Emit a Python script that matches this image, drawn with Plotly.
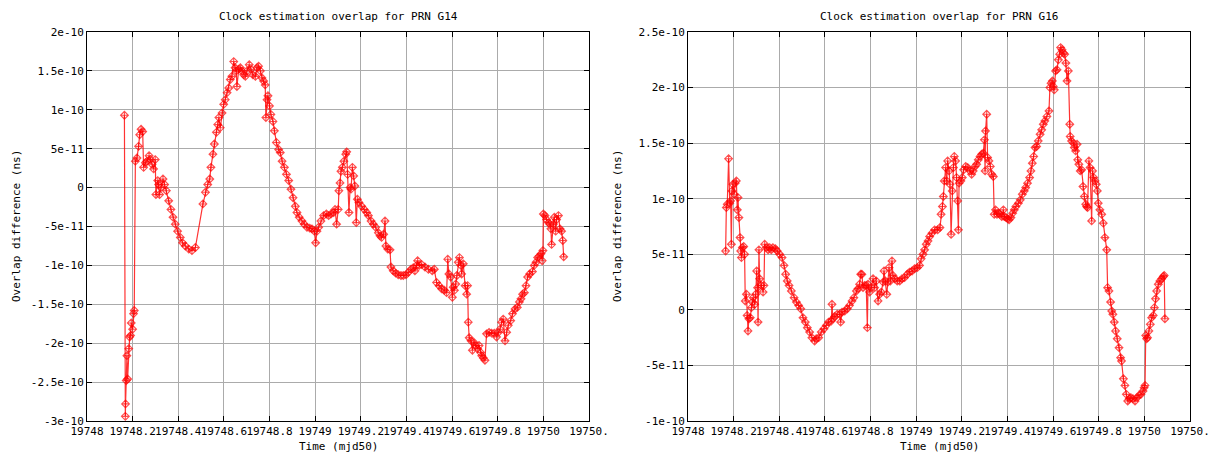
import numpy as np
import plotly.graph_objects as go

# ---------------- data ----------------
# PRN G14 : time (mjd50) and overlap difference (in units of 1e-10)
g14_time = [
    19748.164, 19748.168, 19748.169, 19748.172, 19748.175, 19748.178, 19748.183, 19748.187,
    19748.191, 19748.194, 19748.200, 19748.204, 19748.207, 19748.212, 19748.219, 19748.226,
    19748.231, 19748.237, 19748.244, 19748.248, 19748.256, 19748.263, 19748.272, 19748.278,
    19748.285, 19748.292, 19748.299, 19748.302, 19748.310, 19748.314, 19748.318, 19748.324,
    19748.333, 19748.340, 19748.348, 19748.358, 19748.368, 19748.377, 19748.387, 19748.397,
    19748.409, 19748.419, 19748.431, 19748.446, 19748.460, 19748.475, 19748.508, 19748.519,
    19748.529, 19748.538, 19748.543, 19748.552, 19748.558, 19748.567, 19748.573, 19748.578,
    19748.584, 19748.592, 19748.599, 19748.606, 19748.614, 19748.621, 19748.628, 19748.635,
    19748.643, 19748.649, 19748.654, 19748.657, 19748.665, 19748.672, 19748.679, 19748.687,
    19748.694, 19748.701, 19748.711, 19748.719, 19748.727, 19748.738, 19748.745, 19748.752,
    19748.760, 19748.767, 19748.774, 19748.781, 19748.784, 19748.789, 19748.793, 19748.800,
    19748.806, 19748.815, 19748.821, 19748.830, 19748.840, 19748.847, 19748.855, 19748.865,
    19748.874, 19748.884, 19748.894, 19748.903, 19748.913, 19748.920, 19748.930, 19748.942,
    19748.952, 19748.964, 19748.976, 19748.986, 19748.996, 19749.002, 19749.008, 19749.015,
    19749.025, 19749.037, 19749.049, 19749.059, 19749.069, 19749.081,
    19749.087, 19749.094, 19749.101, 19749.104, 19749.109, 19749.113, 19749.119, 19749.126,
    19749.134, 19749.138, 19749.142, 19749.148, 19749.153, 19749.157, 19749.163, 19749.169,
    19749.174, 19749.180, 19749.185, 19749.192, 19749.204, 19749.215, 19749.226, 19749.233,
    19749.245, 19749.255, 19749.265, 19749.277, 19749.284, 19749.291, 19749.300, 19749.306,
    19749.310, 19749.318, 19749.328, 19749.332, 19749.342, 19749.353, 19749.364, 19749.376,
    19749.386, 19749.398, 19749.408, 19749.420, 19749.430, 19749.437, 19749.445, 19749.449,
    19749.456, 19749.467, 19749.481, 19749.496, 19749.513, 19749.522, 19749.532, 19749.543,
    19749.554, 19749.566, 19749.576, 19749.581, 19749.586, 19749.594, 19749.601, 19749.605,
    19749.610, 19749.616, 19749.621, 19749.627, 19749.632, 19749.639, 19749.642, 19749.649,
    19749.657, 19749.664, 19749.668, 19749.671, 19749.675, 19749.683, 19749.689, 19749.696,
    19749.703, 19749.712, 19749.718, 19749.725, 19749.730, 19749.737, 19749.744, 19749.751,
    19749.762, 19749.773, 19749.785, 19749.795, 19749.803, 19749.810, 19749.817, 19749.824,
    19749.832, 19749.839, 19749.846, 19749.857, 19749.865, 19749.876, 19749.886, 19749.895,
    19749.902, 19749.909, 19749.917, 19749.924, 19749.931, 19749.940, 19749.952, 19749.960,
    19749.968, 19749.975, 19749.982, 19749.990, 19749.995, 19749.998, 19750.000, 19750.007,
    19750.014, 19750.022, 19750.029, 19750.033, 19750.036, 19750.044, 19750.048, 19750.054,
    19750.058, 19750.066, 19750.073, 19750.080, 19750.085, 19750.089,
]
g14_diff_e10 = [
    0.93, -2.94, -2.78, -2.48, -2.16, -2.46, -2.07, -1.92,
    -1.90, -1.74, -1.82, -1.62, -1.58, 0.34, 0.38, 0.53,
    0.68, 0.75, 0.72, 0.26, 0.32, 0.34, 0.41, 0.36,
    0.30, 0.24, 0.36, -0.09, 0.09, 0.04, -0.09, 0.00,
    0.11, 0.04, -0.04, -0.17, -0.28, -0.38, -0.47, -0.56,
    -0.64, -0.71, -0.75, -0.79, -0.81, -0.77, -0.21, -0.06,
    0.04, 0.11, 0.26, 0.43, 0.56, 0.71, 0.81, 0.90,
    0.77, 0.96, 1.07, 1.13, 1.22, 1.28, 1.39, 1.43,
    1.62, 1.54, 1.50, 1.30, 1.52, 1.54, 1.50, 1.45,
    1.43, 1.50, 1.58, 1.52, 1.45, 1.43, 1.54, 1.56,
    1.50, 1.41, 1.37, 1.32, 0.90, 1.13, 1.18, 1.05,
    0.94, 0.85, 0.73, 0.58, 0.49, 0.45, 0.34, 0.26,
    0.17, 0.09, -0.02, -0.13, -0.24, -0.32, -0.38, -0.43,
    -0.47, -0.51, -0.52, -0.53, -0.56, -0.71, -0.56, -0.51,
    -0.43, -0.36, -0.34, -0.36, -0.34, -0.32,
    -0.28, -0.47, -0.28, -0.04, 0.06, 0.21, 0.26, 0.34,
    0.43, 0.46, 0.17, -0.32, 0.00, -0.02, 0.26, 0.15,
    0.02, -0.45, -0.15, -0.19, -0.24, -0.28, -0.32, -0.36,
    -0.43, -0.47, -0.51, -0.58, -0.62, -0.64, -0.60, -0.43,
    -0.75, -0.79, -0.80, -1.02, -1.07, -1.10, -1.12, -1.13,
    -1.13, -1.12, -1.09, -1.05, -1.03, -1.07, -1.00, -0.94,
    -1.00, -0.99, -1.02, -1.05, -1.07, -1.05, -1.22, -1.26,
    -1.30, -1.32, -1.35, -0.92, -1.11, -1.15, -1.41, -1.28,
    -1.32, -1.24, -1.13, -0.96, -0.90, -1.00, -1.11, -0.98,
    -1.26, -1.37, -1.26, -1.73, -1.93, -1.97, -2.09, -1.99,
    -2.03, -2.07, -2.03, -2.12, -2.16, -2.19, -2.22, -1.88,
    -1.86, -1.87, -1.87, -1.92, -1.86, -1.82, -1.73, -1.69,
    -1.97, -1.86, -1.77, -1.71, -1.62, -1.56, -1.54, -1.47,
    -1.43, -1.37, -1.35, -1.26, -1.15, -1.11, -1.08, -1.00,
    -0.96, -0.90, -0.88, -0.85, -0.94, -0.81, -0.34, -0.36,
    -0.41, -0.45, -0.47, -0.53, -0.73, -0.47, -0.38, -0.56,
    -0.41, -0.36, -0.53, -0.56, -0.68, -0.89,
]

# PRN G16 : time (mjd50) and overlap difference (in units of 1e-10)
g16_time = [
    19748.165, 19748.168, 19748.172, 19748.178, 19748.183, 19748.187, 19748.190, 19748.193,
    19748.197, 19748.202, 19748.207, 19748.212, 19748.216, 19748.219, 19748.223, 19748.228,
    19748.231, 19748.234, 19748.238, 19748.244, 19748.248, 19748.251, 19748.256, 19748.259,
    19748.263, 19748.267, 19748.273, 19748.278, 19748.282, 19748.286, 19748.292, 19748.297,
    19748.301, 19748.305, 19748.307, 19748.311, 19748.314, 19748.321, 19748.329, 19748.333,
    19748.336, 19748.343, 19748.351, 19748.358, 19748.365, 19748.372, 19748.383, 19748.391,
    19748.402, 19748.412, 19748.421, 19748.428, 19748.435, 19748.443, 19748.453, 19748.465,
    19748.475, 19748.485, 19748.494, 19748.504, 19748.514, 19748.523, 19748.533, 19748.543,
    19748.555, 19748.562, 19748.573, 19748.584, 19748.596, 19748.606, 19748.616, 19748.628,
    19748.631, 19748.635, 19748.643, 19748.654, 19748.665, 19748.669, 19748.675, 19748.687,
    19748.698, 19748.708, 19748.719, 19748.727, 19748.738, 19748.745, 19748.752, 19748.757,
    19748.762, 19748.767, 19748.774, 19748.781, 19748.786, 19748.789, 19748.796, 19748.803,
    19748.811, 19748.818, 19748.825, 19748.833, 19748.840, 19748.847, 19748.855, 19748.859,
    19748.865, 19748.871, 19748.876, 19748.881, 19748.887, 19748.894, 19748.898, 19748.906,
    19748.917, 19748.928, 19748.938, 19748.949, 19748.961, 19748.971, 19748.982, 19748.993,
    19749.005, 19749.015, 19749.022, 19749.030, 19749.037, 19749.044, 19749.052, 19749.059,
    19749.069, 19749.081,
    19749.094, 19749.104, 19749.109, 19749.115, 19749.119, 19749.123, 19749.129, 19749.134,
    19749.138, 19749.144, 19749.148, 19749.153, 19749.158, 19749.163, 19749.167, 19749.173,
    19749.177, 19749.182, 19749.185, 19749.188, 19749.196, 19749.202, 19749.208, 19749.217,
    19749.226, 19749.236, 19749.243, 19749.250, 19749.258, 19749.265, 19749.272, 19749.280,
    19749.287, 19749.294, 19749.299, 19749.302, 19749.304, 19749.309, 19749.313, 19749.319,
    19749.325, 19749.331, 19749.338, 19749.342, 19749.348, 19749.354, 19749.360, 19749.367,
    19749.375, 19749.382, 19749.386, 19749.394, 19749.401, 19749.407, 19749.415, 19749.423,
    19749.430, 19749.437, 19749.448, 19749.456, 19749.465, 19749.474, 19749.480, 19749.488,
    19749.497, 19749.503, 19749.509, 19749.515, 19749.521, 19749.528, 19749.535, 19749.543,
    19749.550, 19749.557, 19749.564, 19749.573, 19749.582, 19749.586, 19749.591, 19749.597,
    19749.601, 19749.605, 19749.611, 19749.617, 19749.623, 19749.629, 19749.633, 19749.639,
    19749.645, 19749.651, 19749.656, 19749.661, 19749.667, 19749.673, 19749.675, 19749.681,
    19749.689, 19749.693, 19749.699, 19749.705, 19749.708, 19749.713, 19749.719, 19749.725,
    19749.731, 19749.737, 19749.743, 19749.747, 19749.751, 19749.757, 19749.762, 19749.769,
    19749.773, 19749.778, 19749.784, 19749.789, 19749.794, 19749.798, 19749.805, 19749.813,
    19749.820, 19749.827, 19749.835, 19749.839, 19749.845, 19749.852, 19749.857, 19749.862,
    19749.868, 19749.874, 19749.881, 19749.889, 19749.896, 19749.900, 19749.908, 19749.915,
    19749.921, 19749.927, 19749.934, 19749.941, 19749.950, 19749.959, 19749.968, 19749.976,
    19749.985, 19749.994, 19749.999, 19750.003, 19750.006, 19750.010, 19750.014, 19750.020,
    19750.026, 19750.032, 19750.039, 19750.044, 19750.049, 19750.054, 19750.061, 19750.068,
    19750.076, 19750.083, 19750.087, 19750.090,
]
g16_diff_e10 = [
    0.53, 0.92, 0.95, 1.36, 0.96, 0.98, 0.59, 1.07,
    1.13, 1.04, 1.14, 1.16, 0.90, 1.01, 0.83, 0.65,
    0.53, 0.47, 0.56, 0.57, 0.50, 0.08, 0.14, -0.05,
    -0.19, -0.08, -0.07, 0.02, 0.07, 0.11, 0.05, 0.14,
    0.35, 0.20, -0.11, 0.54, 0.28, 0.22, 0.16, 0.22,
    0.59, 0.56, 0.54, 0.56, 0.54, 0.56, 0.55, 0.53,
    0.50, 0.47, 0.40, 0.32, 0.26, 0.22, 0.17, 0.11,
    0.07, 0.04, 0.01, -0.07, -0.11, -0.16, -0.20, -0.25,
    -0.28, -0.26, -0.25, -0.20, -0.17, -0.14, -0.11, -0.10,
    0.05, -0.08, -0.06, -0.04, -0.04, -0.11, -0.02, -0.01,
    0.01, 0.04, 0.08, 0.11, 0.17, 0.19, 0.23, 0.32,
    0.32, 0.20, 0.22, 0.22, -0.16, 0.23, 0.16, 0.20,
    0.28, 0.20, 0.26, 0.08, 0.14, 0.16, 0.25, 0.35,
    0.26, 0.14, 0.25, 0.38, 0.26, 0.44, 0.31, 0.28,
    0.26, 0.26, 0.28, 0.29, 0.32, 0.34, 0.35, 0.37,
    0.38, 0.40, 0.46, 0.50, 0.54, 0.59, 0.62, 0.66,
    0.69, 0.72,
    0.72, 0.74, 0.86, 0.93, 1.02, 1.16, 1.28, 1.16,
    1.34, 1.25, 1.13, 0.68, 1.07, 1.28, 1.38, 1.34,
    1.19, 0.98, 0.72, 1.14, 1.16, 1.19, 1.26, 1.29,
    1.28, 1.25, 1.22, 1.25, 1.29, 1.31, 1.35, 1.38,
    1.40, 1.41, 1.53, 1.25, 1.61, 1.76, 1.37, 1.34,
    1.29, 1.22, 1.20, 0.86, 0.90, 0.86, 0.87, 0.86,
    0.84, 0.90, 0.84, 0.83, 0.82, 0.81, 0.83, 0.87,
    0.90, 0.93, 0.96, 0.99, 1.04, 1.07, 1.10, 1.14,
    1.19, 1.25, 1.32, 1.38, 1.46, 1.47, 1.52, 1.58,
    1.62, 1.67, 1.70, 1.74, 1.79, 2.00, 2.04, 2.06,
    2.01, 1.98, 2.15, 2.16, 2.25, 2.30, 2.36, 2.34,
    2.31, 2.30, 2.22, 2.06, 2.15, 1.67, 1.56, 1.52,
    1.50, 1.46, 1.43, 1.49, 1.35, 1.31, 1.25, 1.26,
    1.11, 1.02, 0.95, 0.93, 0.92, 1.34, 1.28, 0.80,
    1.25, 1.19, 1.16, 1.13, 1.07, 0.96, 0.90, 0.86,
    0.78, 0.65, 0.54, 0.20, 0.17, 0.07, -0.01, -0.04,
    -0.11, -0.19, -0.26, -0.34, -0.43, -0.46, -0.62, -0.68,
    -0.76, -0.82, -0.80, -0.79, -0.80, -0.82, -0.79, -0.77,
    -0.76, -0.73, -0.70, -0.68, -0.23, -0.26, -0.25, -0.19,
    -0.13, -0.07, -0.05, 0.02, 0.10, 0.17, 0.23, 0.26,
    0.28, 0.30, 0.31, -0.08,
]

# axis ticks
x_tickvals = [19748.0, 19748.2, 19748.4, 19748.6, 19748.8, 19749.0,
              19749.2, 19749.4, 19749.6, 19749.8, 19750.0, 19750.2]
x_ticktext = ["19748", "19748.2", "19748.4", "19748.6", "19748.8", "19749",
              "19749.2", "19749.4", "19749.6", "19749.8", "19750", "19750."]
g14_ytickvals = [-3e-10, -2.5e-10, -2e-10, -1.5e-10, -1e-10, -5e-11, 0,
                 5e-11, 1e-10, 1.5e-10, 2e-10]
g14_yticktext = ["-3e-10", "-2.5e-10", "-2e-10", "-1.5e-10", "-1e-10", "-5e-11", "0",
                 "5e-11", "1e-10", "1.5e-10", "2e-10"]
g16_ytickvals = [-1e-10, -5e-11, 0, 5e-11, 1e-10, 1.5e-10, 2e-10, 2.5e-10]
g16_yticktext = ["-1e-10", "-5e-11", "0", "5e-11", "1e-10", "1.5e-10", "2e-10", "2.5e-10"]

titles = ["Clock estimation overlap for PRN G14", "Clock estimation overlap for PRN G16"]
x_title = "Time (mjd50)"
y_title = "Overlap difference (ns)"

# ---------------- figure ----------------
W, H = 1216, 452
FONT = "DejaVu Sans Mono"
FS = 11

def px_x(p):
    return p / W

def px_y(p):
    return (H - p) / H

fig = go.Figure()

line_style = dict(color="rgba(255,0,0,0.8)", width=1.2)
marker_style = dict(symbol="diamond-cross-open", size=6, color="rgba(255,0,0,0.7)",
                    line=dict(width=1.1, color="rgba(255,0,0,0.7)"))

fig.add_trace(go.Scatter(x=g14_time, y=np.array(g14_diff_e10) * 1e-10, mode="lines+markers",
                         line=line_style, marker=marker_style, xaxis="x", yaxis="y",
                         showlegend=False))
fig.add_trace(go.Scatter(x=g16_time, y=np.array(g16_diff_e10) * 1e-10, mode="lines+markers",
                         line=line_style, marker=marker_style, xaxis="x2", yaxis="y2",
                         showlegend=False))

ydom = [px_y(421), px_y(32)]
dom1 = [px_x(87), px_x(589)]
dom2 = [px_x(688), px_x(1190)]

common_x = dict(range=[19748, 19750.2], tickvals=x_tickvals, ticktext=x_ticktext,
                tickangle=0, showgrid=True, gridcolor="#ababab", gridwidth=1,
                showline=True, linecolor="black", linewidth=1, mirror="ticks",
                ticks="inside", ticklen=5, tickcolor="black", zeroline=False,
                tickfont=dict(family=FONT, size=FS, color="black"))
common_y = dict(showgrid=True, gridcolor="#ababab", gridwidth=1,
                showline=True, linecolor="black", linewidth=1, mirror="ticks",
                ticks="inside", ticklen=5, tickcolor="black", zeroline=False,
                tickfont=dict(family=FONT, size=FS, color="black"))

fig.update_layout(
    width=W, height=H, autosize=False,
    margin=dict(l=0, r=0, t=0, b=0, autoexpand=False),
    paper_bgcolor="white", plot_bgcolor="white",
    hovermode=False,
    xaxis=dict(domain=dom1, anchor="y", **common_x),
    yaxis=dict(domain=ydom, anchor="x", range=[-3e-10, 2e-10],
               tickvals=g14_ytickvals, ticktext=g14_yticktext, **common_y),
    xaxis2=dict(domain=dom2, anchor="y2", **common_x),
    yaxis2=dict(domain=ydom, anchor="x2", range=[-1e-10, 2.5e-10],
                tickvals=g16_ytickvals, ticktext=g16_yticktext, **common_y),
)

ann_font = dict(family=FONT, size=FS, color="black")
annotations = []
for dom, title, ylab_x in [(dom1, titles[0], 16), (dom2, titles[1], 617)]:
    cx = (dom[0] + dom[1]) / 2
    annotations.append(dict(text=title, x=cx, y=px_y(16), xref="paper", yref="paper",
                            showarrow=False, font=ann_font, xanchor="center", yanchor="middle"))
    annotations.append(dict(text=x_title, x=cx, y=px_y(446), xref="paper", yref="paper",
                            showarrow=False, font=ann_font, xanchor="center", yanchor="middle"))
    annotations.append(dict(text=y_title, x=px_x(ylab_x), y=px_y(226), xref="paper", yref="paper",
                            showarrow=False, font=ann_font, textangle=-90,
                            xanchor="center", yanchor="middle"))
fig.update_layout(annotations=annotations)

fig.write_html(
    "out.html",
    config={"displayModeBar": False},
    post_script="document.body.style.margin='0';document.body.style.padding='0';"
                "document.body.style.overflow='hidden';",
)
